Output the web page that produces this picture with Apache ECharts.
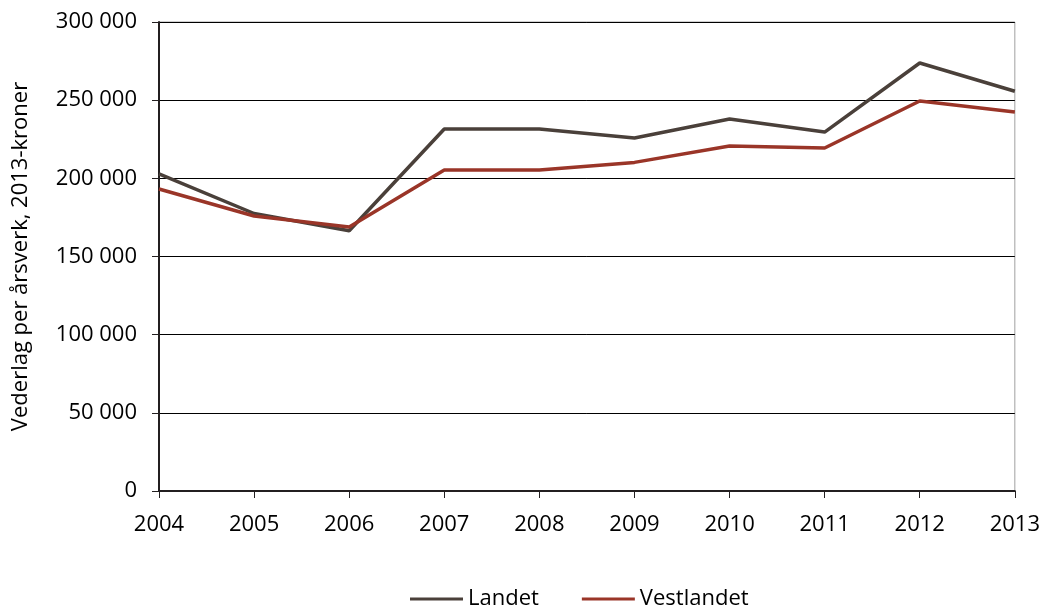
<!DOCTYPE html>
<html><head><meta charset="utf-8">
<script src="https://cdn.jsdelivr.net/npm/echarts@6/dist/echarts.min.js"></script>
<style>html,body{margin:0;padding:0;background:#fff}#c{width:1043px;height:607px}</style>
</head><body><div id="c"></div>
<script>
const years = ['2004','2005','2006','2007','2008','2009','2010','2011','2012','2013'];
const landet = [202800, 177500, 166500, 231600, 231600, 225800, 237900, 229600, 273800, 255700];
const vestlandet = [193200, 175900, 168900, 205300, 205300, 210200, 220700, 219400, 249500, 242400];
const seriesNames = ['Landet', 'Vestlandet'];
const yTitle = 'Vederlag per årsverk, 2013-kroner';

const chart = echarts.init(document.getElementById('c'));
const font = 'Open Sans';
chart.setOption({
  animation: false,
  grid: {left: 159, right: 27, top: 22, bottom: 116, show: true, borderColor: '#a0a0a0', borderWidth: 1},
  legend: {
    left: 410, top: 588, padding: 0, itemWidth: 53, itemHeight: 3, itemGap: 43, icon: 'rect',
    textStyle: {fontFamily: font, fontSize: 22, color: '#000'},
    data: seriesNames
  },
  xAxis: {
    type: 'category', data: years, boundaryGap: false,
    axisLine: {lineStyle: {color: '#231f20', width: 2}},
    axisTick: {show: true, length: 7, lineStyle: {color: '#231f20', width: 1}},
    axisLabel: {fontFamily: font, fontSize: 22, color: '#000', margin: 23}
  },
  yAxis: {
    type: 'value', min: 0, max: 300000, interval: 50000,
    name: yTitle, nameLocation: 'middle', nameGap: 127, nameRotate: 90,
    nameTextStyle: {fontFamily: font, fontSize: 22, color: '#000'},
    axisLine: {show: true, lineStyle: {color: '#231f20', width: 2}},
    axisTick: {show: true, length: 7, lineStyle: {color: '#231f20', width: 1}},
    splitLine: {lineStyle: {color: '#000', width: 1}},
    axisLabel: {fontFamily: font, fontSize: 22, color: '#000', margin: 22,
      formatter: v => v === 0 ? '0' : String(v).replace(/\B(?=(\d{3})+(?!\d))/g, ' ')}
  },
  series: [
    {name: seriesNames[0], type: 'line', data: landet, symbol: 'none',
     lineStyle: {color: '#4a403a', width: 3.5}, itemStyle: {color: '#4a403a'}},
    {name: seriesNames[1], type: 'line', data: vestlandet, symbol: 'none',
     lineStyle: {color: '#9a3528', width: 3.5}, itemStyle: {color: '#9a3528'}}
  ]
});
</script></body></html>
